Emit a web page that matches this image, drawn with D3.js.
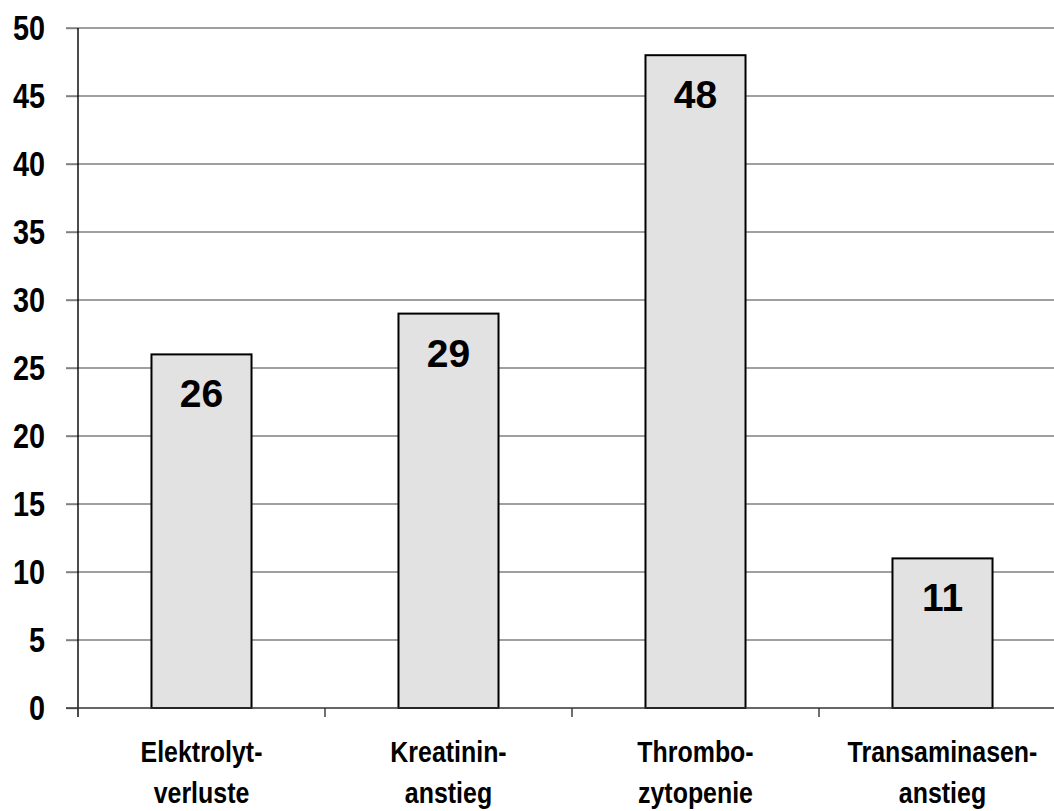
<!DOCTYPE html>
<html>
<head>
<meta charset="utf-8">
<script src="https://cdn.jsdelivr.net/npm/d3@7"></script>
<style>
  html, body { margin: 0; padding: 0; background: #fff; }
  svg { display: block; }
</style>
</head>
<body>
<svg id="chart" width="1054" height="811"></svg>
<script>
// Category labels (two lines each) and their counts
const categories = ["Elektrolyt-verluste", "Kreatinin-anstieg", "Thrombo-zytopenie", "Transaminasen-anstieg"];
const labelLines = [["Elektrolyt-", "verluste"], ["Kreatinin-", "anstieg"], ["Thrombo-", "zytopenie"], ["Transaminasen-", "anstieg"]];
const values = [26, 29, 48, 11];
const yTicks = [0, 5, 10, 15, 20, 25, 30, 35, 40, 45, 50];

(function () {
  const svg = d3.select("#chart");
  const plotLeft = 78, plotRight = 1066, plotTop = 28, plotBottom = 708;

  const x = d3.scaleBand().domain(categories).range([plotLeft, plotRight]).padding(0);
  const y = d3.scaleLinear().domain([0, 50]).range([plotBottom, plotTop]);
  const barW = x.bandwidth() * 0.405;

  const sans = "'Liberation Sans', Arial, sans-serif";
  const squeeze = 0.8; // condensed look for y-axis numbers

  // horizontal gridlines
  svg.append("g").selectAll("line").data(yTicks.filter(d => d > 0)).join("line")
    .attr("x1", plotLeft - 12).attr("x2", 1054)
    .attr("y1", d => y(d)).attr("y2", d => y(d))
    .attr("stroke", "#808080").attr("stroke-width", 1.4);

  // y-axis
  const yAxis = d3.axisLeft(y).tickValues(yTicks).tickSize(12);
  const yg = svg.append("g").attr("transform", `translate(${plotLeft},0)`).call(yAxis);
  yg.select(".domain").remove();
  yg.selectAll(".tick line").attr("stroke", "#808080").attr("stroke-width", 1.4);
  yg.selectAll(".tick text")
    .attr("font-family", sans).attr("font-weight", "bold")
    .attr("font-size", 36).attr("fill", "#000")
    .attr("x", -33 / squeeze)
    .attr("dy", "0.32em")
    .attr("transform", `scale(${squeeze},1)`);
  svg.append("line").attr("x1", plotLeft).attr("x2", plotLeft).attr("y1", plotTop).attr("y2", plotBottom + 9)
    .attr("stroke", "#000").attr("stroke-width", 1.4);

  // bars
  svg.append("g").selectAll("rect").data(values).join("rect")
    .attr("x", (d, i) => x(categories[i]) + (x.bandwidth() - barW) / 2)
    .attr("y", d => y(d))
    .attr("width", barW)
    .attr("height", d => y(0) - y(d))
    .attr("fill", "#e2e2e2").attr("stroke", "#000").attr("stroke-width", 2);

  // x-axis baseline with ticks between categories
  svg.append("line").attr("x1", plotLeft - 12).attr("x2", 1054).attr("y1", plotBottom).attr("y2", plotBottom)
    .attr("stroke", "#333").attr("stroke-width", 1.6);
  svg.append("g").selectAll("line").data(categories.slice(1)).join("line")
    .attr("x1", d => x(d)).attr("x2", d => x(d))
    .attr("y1", plotBottom).attr("y2", plotBottom + 9)
    .attr("stroke", "#333").attr("stroke-width", 1.4);

  // value labels inside bar tops
  svg.append("g").selectAll("text").data(values).join("text")
    .attr("x", (d, i) => x(categories[i]) + x.bandwidth() / 2)
    .attr("y", d => y(d) + 53)
    .attr("text-anchor", "middle")
    .attr("font-family", sans)
    .attr("font-weight", "bold").attr("font-size", 39).attr("fill", "#000")
    .text(d => d);

  // category labels
  const cl = svg.append("g").selectAll("g").data(labelLines).join("g")
    .attr("transform", (d, i) => `translate(${x(categories[i]) + x.bandwidth() / 2},0) scale(0.86,1)`);
  cl.append("text")
    .attr("text-anchor", "middle")
    .attr("font-family", sans).attr("font-weight", "bold")
    .attr("font-size", 29).attr("fill", "#000")
    .selectAll("tspan").data(d => d).join("tspan")
    .attr("x", 0).attr("y", (d, j) => 762 + j * 41)
    .text(d => d);
})();
</script>
</body>
</html>
